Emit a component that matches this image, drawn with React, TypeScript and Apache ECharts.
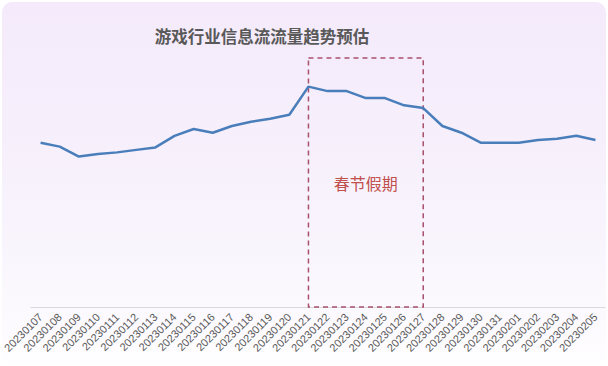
import React, { useEffect, useRef } from "react";
import * as echarts from "echarts";

const categories = [
  "20230107", "20230108", "20230109", "20230110", "20230111", "20230112",
  "20230113", "20230114", "20230115", "20230116", "20230117", "20230118",
  "20230119", "20230120", "20230121", "20230122", "20230123", "20230124",
  "20230125", "20230126", "20230127", "20230128", "20230129", "20230130",
  "20230131", "20230201", "20230202", "20230203", "20230204", "20230205",
];

const trafficValues = [
  66.0, 64.4, 60.4, 61.4, 62.1, 63.1, 64.1, 68.7, 71.5, 70.0,
  72.7, 74.4, 75.6, 77.2, 88.5, 86.7, 86.7, 83.9, 83.9, 81.0,
  79.9, 72.7, 70.0, 66.0, 66.0, 66.0, 67.1, 67.6, 68.8, 67.1,
];

const holidayStart = "20230121";
const holidayEnd = "20230127";
const holidayLabel = "春节假期";
const titleText = "游戏行业信息流流量趋势预估";

export default function App() {
  const ref = useRef<HTMLDivElement>(null);
  useEffect(() => {
    document.body.style.margin = "0";
    const chart = echarts.init(ref.current!, null, { renderer: "svg" });
    chart.setOption({
      animation: false,
      backgroundColor: "#ffffff",
      graphic: [
        {
          type: "rect",
          z: -10,
          silent: true,
          shape: { x: 2, y: 2, width: 604, height: 362, r: 10 },
          style: {
            fill: new echarts.graphic.LinearGradient(0, 0, 0, 1, [
              { offset: 0, color: "#f4eafb" },
              { offset: 0.6, color: "#f8f3fc" },
              { offset: 1, color: "#fefdff" },
            ]),
          },
        },
      ],
      title: {
        text: titleText,
        left: 257,
        textAlign: "center",
        top: 23,
        textStyle: {
          fontFamily: "Noto Sans CJK SC",
          fontSize: 16.5,
          fontWeight: "bold",
          color: "#595959",
        },
      },
      grid: { left: 30, right: 3, top: 58, bottom: 59, containLabel: false },
      xAxis: {
        type: "category",
        data: categories,
        boundaryGap: true,
        axisLine: { lineStyle: { color: "#d9d9d9", width: 1 } },
        axisTick: { show: false },
        axisLabel: {
          rotate: 45,
          interval: 0,
          margin: 8,
          fontFamily: "Liberation Sans",
          fontSize: 11,
          color: "#595959",
        },
      },
      yAxis: {
        type: "value",
        min: 0,
        max: 100,
        show: false,
        splitLine: { show: false },
      },
      series: [
        {
          type: "line",
          data: trafficValues,
          symbol: "none",
          lineStyle: { color: "#4a7ebb", width: 2.5 },
          markArea: {
            silent: true,
            itemStyle: {
              color: "rgba(0,0,0,0)",
              borderColor: "#a8506c",
              borderWidth: 1.5,
              borderType: [5, 4],
            },
            label: {
              show: true,
              position: "inside",
              fontFamily: "Noto Sans CJK SC",
              fontSize: 16,
              color: "#c0504d",
            },
            data: [
              [
                { name: holidayLabel, xAxis: holidayStart, yAxis: 100 },
                { xAxis: holidayEnd, yAxis: 0 },
              ],
            ],
          },
        },
      ],
    });
    return () => chart.dispose();
  }, []);
  return (
    <div
      ref={ref}
      style={{ position: "absolute", left: 0, top: 0, width: 608, height: 366 }}
    />
  );
}
